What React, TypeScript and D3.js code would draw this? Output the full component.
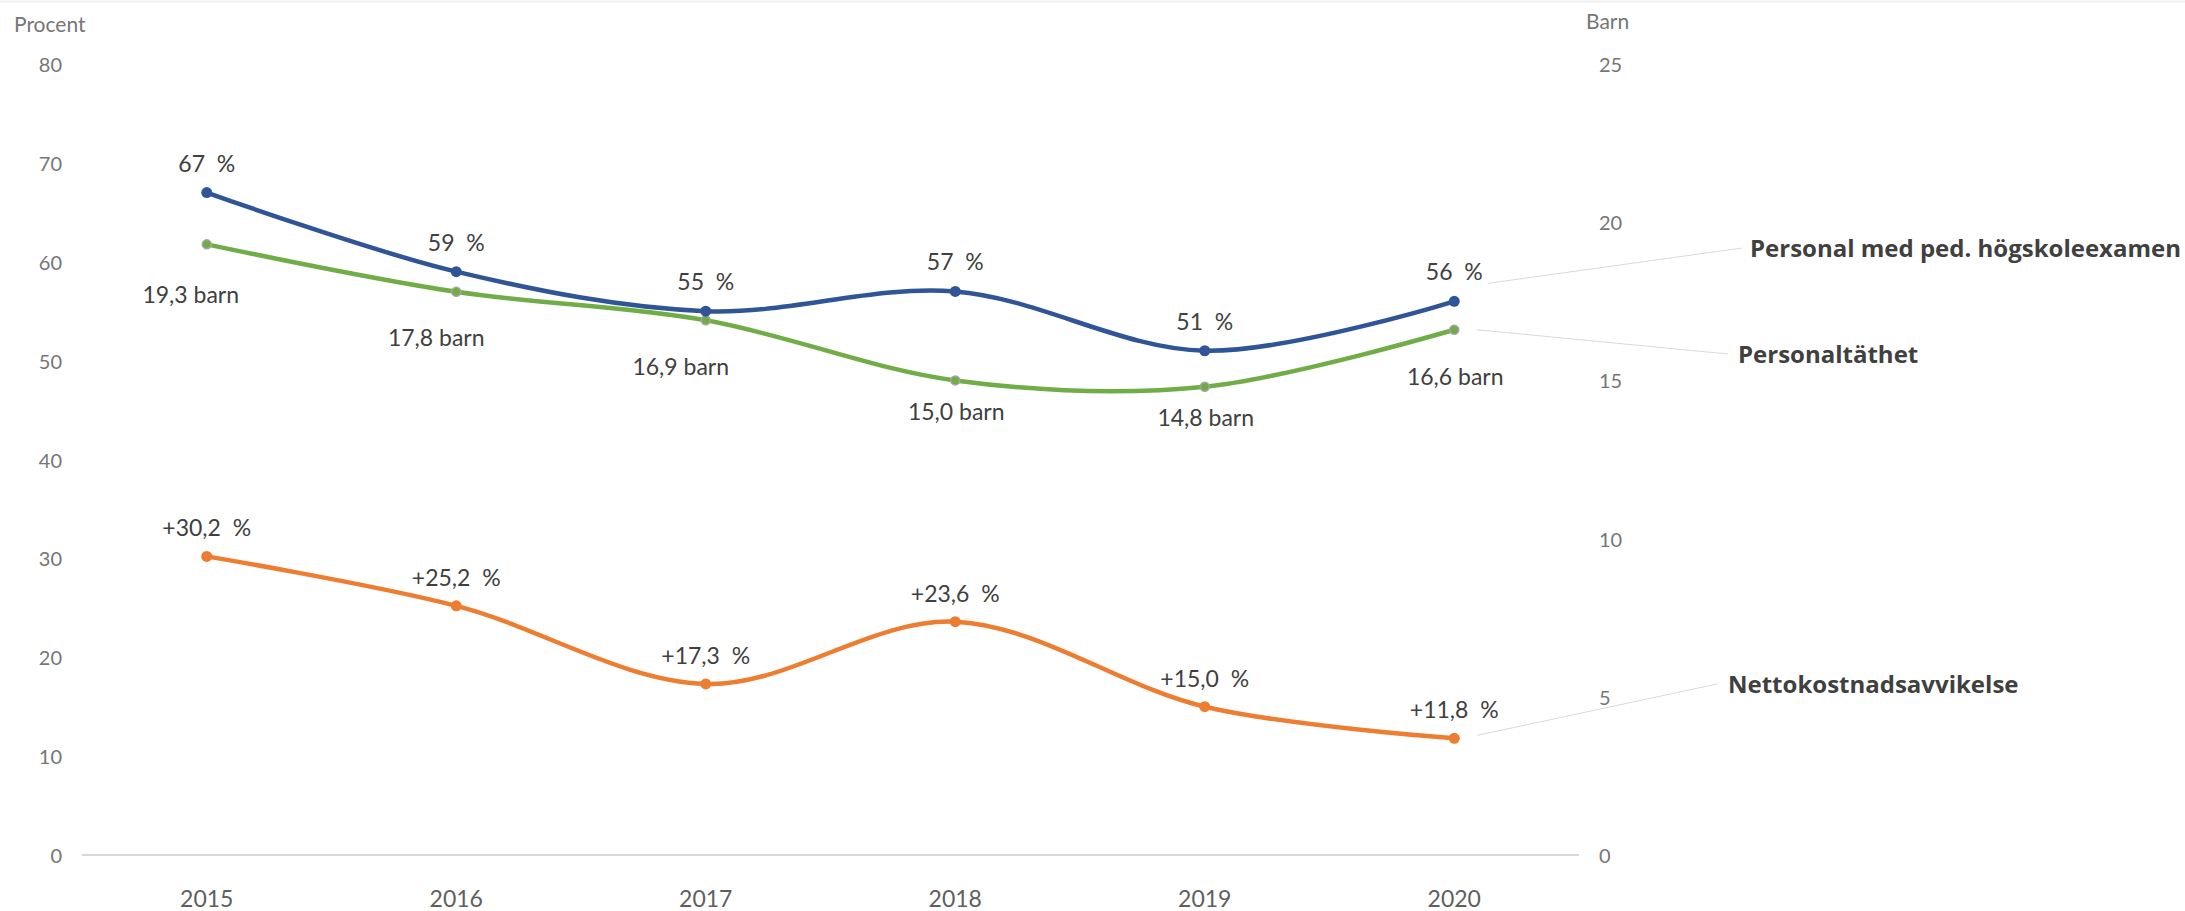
import React from 'react';
import * as d3 from 'd3';

// values
const years = ['2015', '2016', '2017', '2018', '2019', '2020'];
const pedExam = [67, 59, 55, 57, 51, 56]; // procent, left axis
const staffDensity = [19.3, 17.8, 16.9, 15.0, 14.8, 16.6]; // barn, right axis
const costDeviation = [30.2, 25.2, 17.3, 23.6, 15.0, 11.8]; // procent, left axis
const leftTicks = [0, 10, 20, 30, 40, 50, 60, 70, 80];
const rightTicks = [0, 5, 10, 15, 20, 25];
const seriesNames = ['Personal med ped. högskoleexamen', 'Personaltäthet', 'Nettokostnadsavvikelse'];

// label nudges for the green series (the original places some labels by hand)
const greenNudgeX = [-16, -20, -25, 1, 1, 1];
const greenNudgeY = [50, 45, 46, 31, 30, 46];

const W = 2185, H = 911;
const BLUE = '#2f5597', GREEN = '#70ad47', ORANGE = '#ed7d31';
const FONT = 'Lato, "Noto Sans", sans-serif';
const NAME_FONT = '"Open Sans", Lato, sans-serif';

const fmt = (v: number) => v.toFixed(1).replace('.', ',');

export default function App() {
  const x = d3.scalePoint<string>().domain(years).range([82, 1579]).padding(0.5);
  const yL = d3.scaleLinear().domain([0, 80]).range([855, 64]);
  const yR = d3.scaleLinear().domain([0, 25]).range([855, 64]);
  const curve = d3.curveCatmullRom.alpha(0);

  const lineL = d3.line<number>().x((_, i) => x(years[i])!).y(d => yL(d)).curve(curve);
  const lineR = d3.line<number>().x((_, i) => x(years[i])!).y(d => yR(d)).curve(curve);

  const last = years.length - 1;
  const xe = x(years[last])!;

  return (
    <svg width={W} height={H} style={{ display: 'block', position: 'absolute', left: 0, top: 0, background: '#fff' }} fontFamily={FONT}>
      <line x1={0} x2={W} y1={1.5} y2={1.5} stroke="#f0f0f0" strokeWidth={2} />

      {/* axis titles */}
      <text x={14} y={23} fontSize={21} fill="#767676" dominantBaseline="central">Procent</text>
      <text x={1586} y={20} fontSize={21} fill="#767676" dominantBaseline="central">Barn</text>

      {/* left ticks */}
      {leftTicks.map(t => (
        <text key={'l' + t} x={62} y={yL(t)} fontSize={20} fill="#767676" textAnchor="end" dominantBaseline="central">{t}</text>
      ))}
      {/* right ticks */}
      {rightTicks.map(t => (
        <text key={'r' + t} x={1599} y={yR(t)} fontSize={20} fill="#767676" dominantBaseline="central">{t}</text>
      ))}

      {/* baseline */}
      <line x1={82} x2={1579} y1={yL(0)} y2={yL(0)} stroke="#d9d9d9" strokeWidth={2} />

      {/* year labels */}
      {years.map(y => (
        <text key={y} x={x(y)} y={898} fontSize={23} fill="#5f5f5f" textAnchor="middle" dominantBaseline="central">{y}</text>
      ))}

      {/* lines */}
      <path d={lineR(staffDensity)!} fill="none" stroke={GREEN} strokeWidth={4.5} />
      <path d={lineL(pedExam)!} fill="none" stroke={BLUE} strokeWidth={4.5} />
      <path d={lineL(costDeviation)!} fill="none" stroke={ORANGE} strokeWidth={4.5} />

      {/* markers */}
      {staffDensity.map((v, i) => (
        <circle key={'g' + i} cx={x(years[i])} cy={yR(v)} r={4.5} fill={GREEN} stroke="#a5a5a5" strokeWidth={1.5} />
      ))}
      {pedExam.map((v, i) => (
        <circle key={'b' + i} cx={x(years[i])} cy={yL(v)} r={5.5} fill={BLUE} />
      ))}
      {costDeviation.map((v, i) => (
        <circle key={'o' + i} cx={x(years[i])} cy={yL(v)} r={5.5} fill={ORANGE} />
      ))}

      {/* data labels */}
      {pedExam.map((v, i) => (
        <text key={'bl' + i} x={x(years[i])} y={yL(v) - 30} fontSize={23} fill="#404040" textAnchor="middle" dominantBaseline="central" style={{ whiteSpace: 'pre' }}>{`${v}  %`}</text>
      ))}
      {staffDensity.map((v, i) => (
        <text key={'gl' + i} x={x(years[i])! + greenNudgeX[i]} y={yR(v) + greenNudgeY[i]} fontSize={23} fill="#404040" textAnchor="middle" dominantBaseline="central">{`${fmt(v)} barn`}</text>
      ))}
      {costDeviation.map((v, i) => (
        <text key={'ol' + i} x={x(years[i])} y={yL(v) - 29} fontSize={23} fill="#404040" textAnchor="middle" dominantBaseline="central" style={{ whiteSpace: 'pre' }}>{`+${fmt(v)}  %`}</text>
      ))}

      {/* series names with leader lines */}
      <g fontFamily={NAME_FONT} fontSize={24} fontWeight={700} fill="#404040">
        <line x1={xe + 34} y1={yL(pedExam[last]) - 18} x2={1742} y2={248} stroke="#d9d9d9" strokeWidth={1} />
        <text x={1750} y={247} dominantBaseline="central">{seriesNames[0]}</text>

        <line x1={xe + 23} y1={yR(staffDensity[last])} x2={1728} y2={354} stroke="#d9d9d9" strokeWidth={1} />
        <text x={1738} y={353} dominantBaseline="central">{seriesNames[1]}</text>

        <line x1={xe + 23} y1={yL(costDeviation[last]) - 3} x2={1717} y2={684} stroke="#d9d9d9" strokeWidth={1} />
        <text x={1728} y={683} dominantBaseline="central">{seriesNames[2]}</text>
      </g>
    </svg>
  );
}
